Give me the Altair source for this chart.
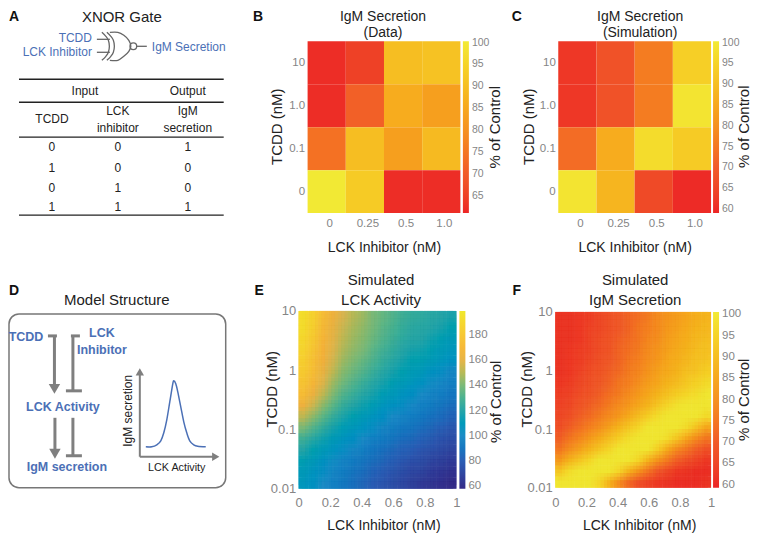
import altair as alt
import pandas as pd

FONT = "Liberation Sans"
BLUE = "#4b70b6"
GREY = "#7f7f7f"
INK = "#222222"
LABEL = "#858585"

# ---------- panel B / C data ----------
lck_cats = ["0", "0.25", "0.5", "1.0"]
tcdd_cats = ["10", "1.0", "0.1", "0"]
b_values = [
    [62, 65, 90, 91],
    [62, 71, 86, 83],
    [74, 90, 83, 89],
    [100, 93, 62, 62],
]
c_values = [
    [62, 68, 76, 94],
    [62, 68, 76, 99],
    [73, 86, 97, 93],
    [99, 88, 66, 60],
]
hot_stops = [60, 70, 80, 90, 100]
hot_colors = ["#ec2426", "#f15a29", "#f59120", "#f6be22", "#f2ea35"]

# ---------- panel E / F data (top row = TCDD 10, left column = LCK 0) ----------
e_values = [
    [193, 186, 172, 163, 155, 150, 146, 140, 136, 132, 128, 125, 124, 122, 120, 118],
    [192, 184, 170, 161, 153, 148, 144, 139, 134, 130, 126, 123, 122, 120, 118, 115],
    [190, 181, 168, 159, 151, 146, 142, 137, 132, 128, 124, 121, 120, 117, 114, 111],
    [188, 178, 166, 157, 149, 144, 140, 134, 129, 125, 121, 118, 117, 114, 111, 108],
    [185, 175, 164, 154, 146, 141, 136, 131, 126, 122, 118, 115, 114, 111, 108, 105],
    [182, 172, 161, 151, 142, 137, 132, 127, 122, 118, 115, 112, 109, 105, 102, 98],
    [178, 168, 157, 146, 138, 132, 127, 122, 118, 114, 111, 108, 105, 101, 98, 95],
    [172, 162, 151, 141, 132, 127, 122, 118, 113, 110, 106, 103, 100, 97, 94, 91],
    [163, 153, 143, 134, 126, 121, 117, 113, 108, 105, 102, 99, 96, 93, 90, 87],
    [151, 143, 134, 126, 119, 115, 111, 107, 103, 100, 97, 94, 92, 89, 86, 83],
    [140, 132, 125, 118, 113, 109, 106, 102, 98, 95, 92, 90, 87, 84, 81, 78],
    [128, 122, 117, 111, 107, 103, 100, 96, 93, 90, 87, 85, 82, 79, 76, 74],
    [120, 115, 110, 106, 102, 98, 95, 91, 88, 85, 82, 80, 77, 75, 72, 70],
    [114, 110, 105, 101, 97, 93, 90, 87, 84, 81, 78, 75, 73, 70, 68, 66],
    [110, 106, 102, 98, 94, 90, 87, 83, 80, 77, 74, 71, 69, 66, 64, 62],
    [108, 104, 100, 96, 92, 88, 84, 80, 77, 74, 71, 68, 65, 63, 61, 59],
]
f_values = [
    [62, 62, 63, 64, 66, 68, 70, 72, 74, 76, 79, 81, 83, 85, 87, 88],
    [62, 62, 63, 65, 66, 68, 70, 72, 75, 77, 79, 82, 84, 86, 88, 89],
    [62, 62, 63, 65, 67, 69, 71, 73, 75, 78, 80, 83, 85, 87, 89, 90],
    [62, 63, 64, 65, 67, 69, 72, 74, 76, 79, 81, 84, 86, 88, 90, 91],
    [62, 63, 64, 66, 68, 70, 72, 75, 77, 80, 82, 85, 87, 89, 91, 92],
    [62, 63, 65, 67, 69, 71, 73, 76, 78, 81, 84, 86, 88, 91, 92, 94],
    [63, 64, 66, 68, 70, 72, 75, 77, 80, 83, 85, 88, 90, 93, 95, 97],
    [64, 65, 67, 69, 71, 74, 76, 79, 82, 85, 88, 91, 94, 96, 98, 100],
    [65, 66, 69, 71, 73, 76, 79, 82, 85, 88, 92, 96, 99, 100, 100, 100],
    [66, 68, 71, 73, 76, 79, 82, 86, 90, 94, 98, 100, 100, 100, 100, 97],
    [68, 71, 74, 77, 80, 84, 88, 92, 96, 100, 100, 100, 100, 97, 91, 85],
    [71, 75, 78, 82, 86, 90, 94, 98, 100, 100, 100, 98, 92, 85, 79, 75],
    [75, 80, 84, 88, 92, 96, 100, 100, 100, 100, 94, 86, 79, 75, 71, 68],
    [82, 88, 92, 96, 100, 100, 100, 100, 96, 88, 81, 76, 71, 68, 65, 63],
    [92, 98, 100, 100, 100, 100, 96, 88, 81, 75, 70, 66, 63, 62, 61, 61],
    [100, 100, 100, 100, 96, 88, 80, 73, 68, 65, 63, 62, 61, 61, 61, 62],
]
parula_stops = [58, 80, 100, 120, 140, 155, 165, 185, 199]
parula_colors = ["#352a87", "#2b5eb5", "#1c8cc6", "#26a5a8", "#7cba78",
                 "#d9b552", "#f5b23c", "#f7cf32", "#f0e92c"]
# the same cells are re-drawn a fraction of a cell off and averaged, to soften cell edges
cell_shifts = [(0, 0), (-1/3, 0), (1/3, 0), (0, -1/3), (0, 1/3),
               (-1/3, -1/3), (1/3, -1/3), (-1/3, 1/3), (1/3, 1/3)]

# ---------- panel A data ----------
gate_segments = {
    "in1": [(97, 39), (110, 39)],
    "in2": [(97, 52), (110, 52)],
    "back1": [(102, 32), (106, 36), (108.5, 40), (109.5, 46), (108.5, 52), (106, 56), (102, 60)],
    "back2": [(107, 32), (111, 36), (113.5, 40), (114.5, 46), (113.5, 52), (111, 56), (107, 60)],
    "body": [(110, 32), (118, 32), (124, 35), (129, 40), (131, 46), (129, 51), (124, 56), (118, 60), (110, 60)],
    "out": [(137, 46), (147, 46)],
}
gate_bubble = [(133.5, 46)]
table_rules = {
    "r1": [(19, 79), (224, 79)],
    "r2": [(19, 102), (224, 102)],
    "r3": [(19, 137), (224, 137)],
    "r4": [(19, 215), (224, 215)],
}
table_texts = [
    (85, 91, "Input"), (188, 91, "Output"),
    (52, 119, "TCDD"), (118, 111, "LCK"), (118, 128, "inhibitor"),
    (188, 111, "IgM"), (188, 128, "secretion"),
    (52, 147, "0"), (118, 147, "0"), (188, 147, "1"),
    (52, 168, "1"), (118, 168, "0"), (188, 168, "0"),
    (52, 188, "0"), (118, 188, "1"), (188, 188, "0"),
    (52, 207, "1"), (118, 207, "1"), (188, 207, "1"),
]
gate_left_texts = [(92, 38, "TCDD"), (92, 52, "LCK Inhibitor")]
gate_right_texts = [(152, 47, "IgM Secretion")]
a_title = [(122, 17, "XNOR Gate")]

# ---------- panel D data ----------
d_box = [(9, 226, 314, 488)]
d_thick = {
    "a1": [(48, 336), (57, 336)],
    "a2": [(54.5, 336), (54.5, 387)],
    "b1": [(71, 336), (80, 336)],
    "b2": [(73, 336), (73, 391)],
    "b3": [(66, 391), (82, 391)],
    "c1": [(55, 418), (55, 452)],
    "d1": [(73, 418), (73, 456)],
    "d2": [(66, 456), (82, 456)],
}
d_thin = {
    "yaxis": [(140, 457), (140, 375)],
    "xaxis": [(140, 457), (214, 457)],
}
d_heads_down = [(54.5, 389), (55, 454)]
d_head_up = [(140, 372)]
d_head_right = [(216, 457)]
d_curve = [(146, 447), (152, 447), (157, 445), (161, 441), (164, 433), (167, 420), (170, 402),
           (173, 384), (174, 381), (176, 384), (178, 392), (181, 407), (184, 422), (187, 433),
           (190, 441), (194, 445), (198, 446.5), (206, 447)]
d_blue_texts = [(26, 337, "TCDD"), (102, 333, "LCK"), (102, 350, "Inhibitor"),
                (63, 407, "LCK Activity"), (67, 467, "IgM secretion")]
d_title = [(117, 300, "Model Structure")]


def seg_frame(segs):
    rows = []
    for name, pts in segs.items():
        for i, (x, y) in enumerate(pts):
            rows.append({"seg": name, "i": i, "x": x, "y": y})
    return pd.DataFrame(rows)


def pixel_scales(xd, yd):
    return (alt.X("x:Q", axis=None, scale=alt.Scale(domain=xd, nice=False, zero=False)),
            alt.Y("y:Q", axis=None, scale=alt.Scale(domain=yd, nice=False, zero=False)))


def lines(segs, xd, yd, color, width, interp="linear"):
    X, Y = pixel_scales(xd, yd)
    return alt.Chart(seg_frame(segs)).mark_line(
        color=color, strokeWidth=width, interpolate=interp, strokeCap="butt"
    ).encode(x=X, y=Y, detail="seg:N", order="i:Q")


def texts(rows, xd, yd, size, color=INK, weight="normal", align="center", angle=0):
    X, Y = pixel_scales(xd, yd)
    df = pd.DataFrame(rows, columns=["x", "y", "t"])
    return alt.Chart(df).mark_text(
        font=FONT, fontSize=size, color=color, fontWeight=weight, align=align,
        baseline="middle", angle=angle
    ).encode(x=X, y=Y, text="t:N")


def points(rows, xd, yd, shape, size, filled=True, color=GREY, stroke_w=1.0):
    X, Y = pixel_scales(xd, yd)
    df = pd.DataFrame(rows, columns=["x", "y"])
    return alt.Chart(df).mark_point(
        shape=shape, size=size, filled=filled, color=color, opacity=1, strokeWidth=stroke_w
    ).encode(x=X, y=Y)


def overlay(text, x, y, size=15, weight="normal", angle=0, color=INK):
    return alt.Chart(pd.DataFrame({"t": [text]})).mark_text(
        font=FONT, fontSize=size, fontWeight=weight, angle=angle, color=color,
        align="center", baseline="middle"
    ).encode(x=alt.value(x), y=alt.value(y), text="t:N")


def colour_legend(x, y, length, values, size, offset):
    return alt.Legend(type="gradient", orient="none", legendX=x, legendY=y, direction="vertical", title=None,
                      gradientLength=length, gradientThickness=6, values=values,
                      labelFont=FONT, labelFontSize=size, labelColor=LABEL, labelOffset=offset,
                      labelOverlap=False, padding=0, gradientStrokeWidth=0)


def tile_panel(values, w, h, domain_top, legend_vals, legend_x, title_lines, title_x, title_ys,
               pct_x, pct_y, letter, lx, ly, ytx):
    rows = []
    for r, t in enumerate(tcdd_cats):
        for c, l in enumerate(lck_cats):
            rows.append({"l": l, "t": t, "v": values[r][c]})
    stops = [domain_top[0]] + hot_stops[1:-1] + [domain_top[1]]
    heat = alt.Chart(pd.DataFrame(rows)).mark_rect().encode(
        x=alt.X("l:N", sort=lck_cats, scale=alt.Scale(paddingInner=0, paddingOuter=0),
                axis=alt.Axis(title="LCK Inhibitor (nM)", labelAngle=0, ticks=False, domain=False,
                              labelFont=FONT, labelFontSize=11.5, labelColor=LABEL, labelPadding=4,
                              labelOffset=3, titleFont=FONT, titleFontSize=14, titleFontWeight="normal",
                              titleColor=INK, titleY=27)),
        y=alt.Y("t:N", sort=tcdd_cats, scale=alt.Scale(paddingInner=0, paddingOuter=0),
                axis=alt.Axis(title="TCDD (nM)", ticks=False, domain=False, labelFont=FONT,
                              labelFontSize=11.5, labelColor=LABEL, labelPadding=3,
                              titleFont=FONT, titleFontSize=15, titleFontWeight="normal",
                              titleColor=INK, titleX=ytx, titleY=85)),
        color=alt.Color("v:Q", scale=alt.Scale(domain=stops, range=hot_colors),
                        legend=colour_legend(legend_x, 0, 172, legend_vals, 10.5, 3)),
    )
    return alt.layer(
        heat,
        overlay(title_lines[0], title_x, title_ys[0], 14),
        overlay(title_lines[1], title_x, title_ys[1], 14),
        overlay("% of Control", pct_x, pct_y, 15, angle=270),
        overlay(letter, lx, ly, 14, "bold", color="#111111"),
    ).properties(width=w, height=h)


def cell_frame(values, sx, sy):
    rows = []
    n = len(values)
    for r in range(n):
        for c in range(n):
            x0 = max(0.0, (c + sx) / n)
            x1 = min(1.0, (c + 1 + sx) / n)
            top = max(0.0, (r + sy) / n)
            bot = min(1.0, (r + 1 + sy) / n)
            if x1 <= x0 or bot <= top:
                continue
            rows.append({"x0": x0, "x1": x1,
                         "y0": 10 * 10 ** (-3 * bot), "y1": 10 * 10 ** (-3 * top),
                         "v": values[r][c]})
    return pd.DataFrame(rows)


def field_panel(values, w, yrange, stops, colors, legend_vals, legend_x, title_lines, title_x, title_ys,
                pct_x, pct_y, letter, lx, ly, ytx, xtx):
    cscale = alt.Scale(domain=stops, range=colors)
    x_enc = alt.X("x0:Q", scale=alt.Scale(domain=[0, 1], nice=False),
                  axis=alt.Axis(title="LCK Inhibitor (nM)", values=[0, 0.2, 0.4, 0.6, 0.8, 1], format="~g",
                                ticks=False, domain=False, grid=False, labelFont=FONT, labelFontSize=13,
                                labelColor=LABEL, labelPadding=8, labelFlush=False, titleFont=FONT,
                                titleFontSize=14, titleFontWeight="normal", titleColor=INK,
                                titleX=xtx, titleY=30))
    y_enc = alt.Y("y0:Q", scale=alt.Scale(type="log", domain=[0.01, 10], range=yrange, nice=False),
                  axis=alt.Axis(title="TCDD (nM)", values=[0.01, 0.1, 1, 10], format="~g",
                                ticks=False, domain=False, grid=False, labelFont=FONT, labelFontSize=13,
                                labelColor=LABEL, labelPadding=3, titleFont=FONT, titleFontSize=15,
                                titleFontWeight="normal", titleColor=INK, titleX=ytx, titleY=78))
    layers = []
    for k, (sx, sy) in enumerate(cell_shifts):
        layers.append(
            alt.Chart(cell_frame(values, sx, sy)).mark_rect(opacity=1 / (k + 1)).encode(
                x=x_enc, x2="x1:Q", y=y_enc, y2="y1:Q",
                color=alt.Color("v:Q", scale=cscale,
                                legend=colour_legend(legend_x, min(yrange), max(yrange) - min(yrange),
                                                     legend_vals, 11.5, 3)))
        )
    return alt.layer(
        *layers,
        overlay(title_lines[0], title_x, title_ys[0]),
        overlay(title_lines[1], title_x, title_ys[1]),
        overlay("% of Control", pct_x, pct_y, 15, angle=270),
        overlay(letter, lx, ly, 14, "bold", color="#111111"),
    ).properties(width=w, height=178)


# Panel A: drawn in picture-pixel data units
ax, ay = [8, 210], [213, 41]
top_anchor = alt.Chart(pd.DataFrame({"k": [0]})).mark_rule(opacity=0).encode(
    x=alt.value(0), y=alt.value(-33), y2=alt.value(0))
panel_a = alt.layer(
    top_anchor,
    lines(table_rules, ax, ay, "#222222", 1.3),
    lines(gate_segments, ax, ay, "#666666", 1.3, "cardinal"),
    points(gate_bubble, ax, ay, "circle", 45, filled=False, color="#666666", stroke_w=1.3),
    texts(a_title, ax, ay, 15),
    texts(table_texts, ax, ay, 12),
    texts(gate_left_texts, ax, ay, 12, BLUE, align="right"),
    texts(gate_right_texts, ax, ay, 12, BLUE, align="left"),
    overlay("A", 6, -24, 14, "bold", color="#111111"),
).properties(width=202, height=172)

# Panel D
dx_, dy_ = [8, 200], [489, 311]
X_d, Y_d = pixel_scales(dx_, dy_)
box = alt.Chart(pd.DataFrame(d_box, columns=["x", "x2", "y", "y2"])).mark_rect(
    fill="transparent", stroke="#777777", strokeWidth=1.5, cornerRadius=10
).encode(x=X_d, x2="x2:Q", y=Y_d, y2="y2:Q")
panel_d = alt.layer(
    box,
    lines(d_thick, dx_, dy_, GREY, 3),
    lines(d_thin, dx_, dy_, GREY, 2),
    points(d_heads_down, dx_, dy_, "triangle-down", 130),
    points(d_head_up, dx_, dy_, "triangle-up", 70),
    points(d_head_right, dx_, dy_, "triangle-right", 70),
    lines({"curve": d_curve}, dx_, dy_, BLUE, 1.5, "cardinal"),
    texts(d_title, dx_, dy_, 15),
    texts(d_blue_texts, dx_, dy_, 12.5, BLUE, "bold"),
    texts([(128, 411, "IgM secretion")], dx_, dy_, 12, INK, angle=270),
    texts([(177, 468, "LCK Activity")], dx_, dy_, 10.8, INK),
    overlay("D", 6, -20, 14, "bold", color="#111111"),
).properties(width=192, height=178)

panel_b = tile_panel(b_values, 153, 172, (61, 100.3), [65, 70, 75, 80, 85, 90, 95, 100], 155.5,
                     ["IgM Secretion", "(Data)"], 75.5, (-24, -8), 188, 86, "B", -49.5, -24, -23)
panel_c = tile_panel(c_values, 153, 172, (59, 100.3), [60, 65, 70, 75, 80, 85, 90, 95, 100], 155,
                     ["IgM Secretion", "(Simulation)"], 82, (-24, -8), 186, 85.5, "C", -41.5, -24, -22)
panel_e = field_panel(e_values, 158, [178, 0], parula_stops, parula_colors,
                      [60, 80, 100, 120, 140, 160, 180], 161,
                      ["Simulated", "LCK Activity"], 82.5, (-31, -11), 198, 91, "E", -39.5, -20, -19, 85)
panel_f = field_panel(f_values, 156, [177, 1], [59.3, 70, 80, 90, 100.6], hot_colors,
                      [60, 65, 70, 75, 80, 85, 90, 95, 100], 158,
                      ["Simulated", "IgM Secretion"], 80, (-31, -11), 189, 89, "F", -38.5, -20, -21, 84)

row1 = alt.hconcat(panel_a, panel_b, panel_c, spacing=98, bounds="flush").resolve_scale(
    color="independent")
row2 = alt.hconcat(panel_d, panel_e, panel_f, spacing=99, bounds="flush").resolve_scale(
    color="independent")
chart = alt.vconcat(row1, row2, spacing=270, bounds="flush").resolve_scale(
    color="independent"
).properties(padding=0).configure(font=FONT).configure_view(strokeWidth=0)

chart.save("out.html", embed_options={"renderer": "svg", "actions": False})
